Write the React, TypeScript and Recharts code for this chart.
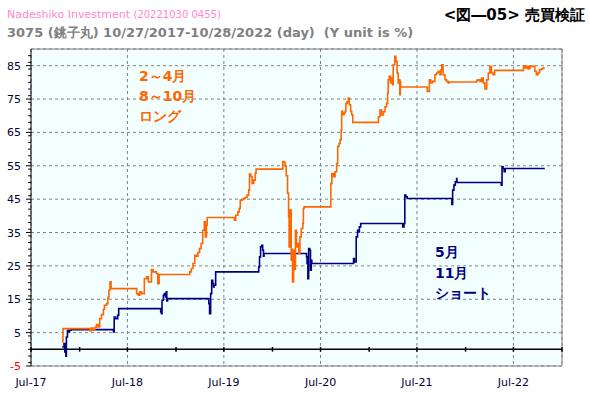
import { LineChart, Line, XAxis, YAxis, CartesianGrid, ReferenceLine } from 'recharts';

// long position: trades Feb-Apr and Aug-Oct
const longDates = [
  '2017-10-27', '2017-10-30', '2018-02-09', '2018-02-14', '2018-02-20', '2018-02-28', '2018-03-06', '2018-03-13',
  '2018-03-18', '2018-03-25', '2018-04-01', '2018-04-05', '2018-04-13', '2018-04-18', '2018-04-22', '2018-04-26',
  '2018-04-30', '2018-08-05', '2018-08-11', '2018-08-17', '2018-08-24', '2018-09-03', '2018-09-12', '2018-09-18',
  '2018-09-30', '2018-10-06', '2018-10-19', '2018-10-24', '2018-10-29', '2019-02-22', '2019-02-28', '2019-03-06',
  '2019-03-13', '2019-03-19', '2019-03-25', '2019-03-31', '2019-04-06', '2019-04-12', '2019-04-18', '2019-04-22',
  '2019-04-26', '2019-04-29', '2019-08-10', '2019-08-15', '2019-08-23', '2019-08-28', '2019-09-01', '2019-09-08',
  '2019-09-14', '2019-09-20', '2019-09-27', '2019-10-03', '2019-10-06', '2019-10-11', '2019-10-16', '2019-10-22',
  '2019-10-28', '2019-10-31', '2020-02-09', '2020-02-14', '2020-02-18', '2020-02-22', '2020-02-27', '2020-03-02',
  '2020-03-04', '2020-03-08', '2020-03-12', '2020-03-15', '2020-03-17', '2020-03-21', '2020-03-24', '2020-03-28',
  '2020-04-01', '2020-04-06', '2020-04-10', '2020-04-14', '2020-04-19', '2020-04-25', '2020-04-27', '2020-04-30',
  '2020-08-09', '2020-08-13', '2020-08-19', '2020-08-25', '2020-08-31', '2020-09-04', '2020-09-09', '2020-09-13',
  '2020-09-17', '2020-09-19', '2020-09-23', '2020-09-28', '2020-10-02', '2020-10-05', '2020-10-10', '2020-10-14',
  '2020-10-18', '2020-10-23', '2020-10-27', '2020-10-31', '2021-02-05', '2021-02-11', '2021-02-17', '2021-02-24',
  '2021-03-02', '2021-03-08', '2021-03-12', '2021-03-14', '2021-03-18', '2021-03-23', '2021-03-27', '2021-03-31',
  '2021-04-02', '2021-04-08', '2021-04-12', '2021-04-17', '2021-04-21', '2021-04-24', '2021-04-27', '2021-04-29',
  '2021-04-30', '2021-08-09', '2021-08-17', '2021-08-22', '2021-08-29', '2021-09-07', '2021-09-13', '2021-09-19',
  '2021-09-26', '2021-09-30', '2021-10-03', '2021-10-08', '2021-10-15', '2021-10-21', '2021-10-27', '2021-10-31',
  '2022-02-12', '2022-02-18', '2022-02-25', '2022-03-03', '2022-03-09', '2022-03-15', '2022-03-22', '2022-03-28',
  '2022-04-03', '2022-04-09', '2022-04-15', '2022-04-21', '2022-08-08', '2022-08-14', '2022-08-20', '2022-08-26',
  '2022-09-01', '2022-09-13', '2022-09-20', '2022-09-26', '2022-10-02', '2022-10-08', '2022-10-14', '2022-10-20',
  '2022-10-28',
];
const longValues = [
  2.2, 6.2, 5.6, 6.4, 5.9, 6.6, 7.4, 6.7,
  9.2, 10.4, 12.0, 13.2, 13.7, 15.5, 17.7, 20.2,
  18.2, 16.7, 16.2, 17.2, 16.7, 21.2, 21.7, 20.2,
  23.9, 23.2, 22.7, 19.7, 22.4, 23.2, 24.2, 25.7,
  28.2, 27.9, 29.0, 30.2, 31.7, 35.7, 38.2, 33.7,
  37.2, 39.5, 38.7, 40.2, 41.2, 42.2, 44.7, 44.9,
  45.2, 45.5, 46.2, 47.7, 52.5, 51.8, 49.7, 50.7,
  52.8, 54.0, 56.3, 56.0, 55.0, 52.0, 46.8, 39.7,
  30.7, 41.7, 26.7, 30.0, 20.2, 29.7, 24.0, 35.7,
  30.7, 31.7, 28.7, 33.7, 36.2, 37.7, 42.2, 42.7,
  49.7, 52.7, 51.7, 53.2, 55.7, 60.8, 61.7, 62.8,
  65.7, 71.3, 70.3, 70.8, 71.3, 73.7, 74.2, 75.3,
  73.3, 71.3, 70.3, 68.0, 69.7, 71.7, 70.2, 71.2,
  72.7, 73.7, 76.8, 80.8, 81.8, 79.8, 81.3, 79.3,
  85.3, 87.8, 86.3, 82.8, 79.8, 80.8, 76.3, 80.3,
  78.6, 77.3, 80.8, 79.8, 80.3, 82.3, 82.8, 83.3,
  82.3, 83.8, 85.3, 82.3, 80.8, 80.3, 79.8, 80.1,
  80.6, 80.8, 80.3, 81.3, 79.8, 78.0, 80.8, 82.8,
  84.8, 82.8, 82.3, 83.6, 85.0, 84.3, 84.8, 84.0,
  84.8, 84.8, 83.3, 82.3, 82.8, 83.8, 84.0, 84.3,
  84.3,
];

// short position: trades May and Nov
const shortDates = [
  '2017-10-27', '2017-11-03', '2017-11-06', '2017-11-10', '2017-11-12', '2017-11-16', '2017-11-21', '2017-11-24',
  '2017-11-30', '2018-05-09', '2018-05-12', '2018-05-17', '2018-05-25', '2018-05-29', '2018-11-04', '2018-11-07',
  '2018-11-09', '2018-11-14', '2018-11-18', '2018-11-22', '2018-11-25', '2018-11-27', '2018-11-30', '2019-05-05',
  '2019-05-08', '2019-05-12', '2019-05-16', '2019-05-20', '2019-05-23', '2019-05-25', '2019-05-31', '2019-11-10',
  '2019-11-13', '2019-11-17', '2019-11-21', '2019-11-25', '2019-11-28', '2019-11-30', '2020-05-09', '2020-05-11',
  '2020-05-14', '2020-05-17', '2020-05-21', '2020-05-24', '2020-05-27', '2020-05-29', '2020-11-03', '2020-11-06',
  '2020-11-13', '2020-11-18', '2020-11-22', '2020-11-25', '2020-11-30', '2021-05-08', '2021-05-13', '2021-05-16',
  '2021-05-20', '2021-05-25', '2021-11-10', '2021-11-13', '2021-11-18', '2021-11-23', '2021-11-28', '2021-11-29',
  '2021-11-30', '2022-05-16', '2022-05-19', '2022-05-23', '2022-05-27', '2022-05-31', '2022-10-28',
];
const shortValues = [
  0.7, 1.7, -0.8, -2.1, 3.7, 5.7, 5.2, 5.7,
  5.9, 5.2, 9.7, 9.2, 10.2, 12.2, 11.2, 10.7,
  14.7, 16.2, 16.7, 15.7, 17.2, 14.5, 15.2, 13.7,
  10.7, 16.7, 20.7, 19.7, 18.7, 19.2, 23.2, 24.7,
  27.7, 30.7, 31.2, 29.7, 27.9, 28.7, 27.7, 25.7,
  21.2, 30.2, 29.7, 23.7, 26.7, 25.7, 27.2, 26.2,
  33.7, 35.7, 35.2, 36.7, 37.7, 36.7, 37.7, 46.2,
  45.7, 45.2, 43.4, 47.7, 49.2, 50.2, 51.2, 50.2,
  50.0, 49.2, 54.7, 54.2, 53.2, 54.2, 54.2,
];

const yTicks = [-5, 5, 15, 25, 35, 45, 55, 65, 75, 85];
const xTickDates = ['2017-07-01', '2018-07-01', '2019-07-01', '2020-07-01', '2021-07-01', '2022-07-01'];
const halfYearDates = [
  '2017-07-01', '2018-01-01', '2018-07-01', '2019-01-01', '2019-07-01', '2020-01-01',
  '2020-07-01', '2021-01-01', '2021-07-01', '2022-01-01', '2022-07-01', '2023-01-01',
];

const DAY = 86400000;
const xStart = Date.parse('2017-07-01');
const xEnd = Date.parse('2023-01-01');
const yMin = -5;
const yMax = 90;

const longData = longDates.map((d, i) => ({ t: Date.parse(d), v: longValues[i] }));
const shortData = shortDates.map((d, i) => ({ t: Date.parse(d), v: shortValues[i] }));
const xTicks = xTickDates.map(d => Date.parse(d));
const halfYears = halfYearDates.map(d => Date.parse(d));
const minorY: number[] = [];
for (let v = -4; v <= 88; v += 2) minorY.push(v);

const FONT = '"DejaVu Sans", Verdana, sans-serif';
const MONTHS = ['Jan', 'Feb', 'Mar', 'Apr', 'May', 'Jun', 'Jul', 'Aug', 'Sep', 'Oct', 'Nov', 'Dec'];

const fmtX = (t: number) => {
  const d = new Date(t);
  return `${MONTHS[d.getUTCMonth()]}-${String(d.getUTCFullYear()).slice(2)}`;
};

const YTick = ({ x, y, payload }: any) => (
  <text x={x} y={y} dy={4} textAnchor="end" fontSize={11} fontFamily={FONT}
    fill={payload.value < 0 ? '#ff0000' : '#000033'}>
    {payload.value}
  </text>
);

export default function App() {
  return (
    <div style={{ position: 'absolute', left: 0, top: 0, width: 590, height: 396, background: '#fff', fontFamily: FONT }}>
      <div style={{ position: 'absolute', left: 7, top: 8, fontSize: 11, color: '#ff88cc', whiteSpace: 'pre' }}>
        Nadeshiko Investment <span style={{ fontSize: 10 }}>(20221030 0455)</span>
      </div>
      <div style={{ position: 'absolute', left: 7, top: 24, fontSize: 13, fontWeight: 'bold', color: '#808080', whiteSpace: 'pre' }}>
        {'3075 (銚子丸) 10/27/2017-10/28/2022 (day)  (Y unit is %)'}
      </div>
      <div style={{ position: 'absolute', right: 5, top: 6, fontSize: 15, fontWeight: 'bold', color: '#000', whiteSpace: 'nowrap' }}>
        &lt;図―05&gt; 売買検証
      </div>

      <LineChart width={590} height={396} data={longData} margin={{ top: 49, right: 28, bottom: 0, left: 0 }}>
        <CartesianGrid stroke="#808080" strokeDasharray="3 3" fill="#f3ffff" />
        <XAxis
          dataKey="t"
          type="number"
          scale="time"
          domain={[xStart, xEnd]}
          ticks={xTicks}
          tickFormatter={fmtX}
          allowDataOverflow
          height={30}
          axisLine={{ stroke: '#808080' }}
          tickLine={false}
          tickMargin={6}
          tick={{ fontSize: 11, fontFamily: FONT, fill: '#000033' }}
        />
        <YAxis
          type="number"
          domain={[yMin, yMax]}
          ticks={yTicks}
          allowDataOverflow
          width={31}
          axisLine={{ stroke: '#000' }}
          tickLine={{ stroke: '#000' }}
          tickSize={5}
          tickMargin={5}
          tick={<YTick />}
        />
        <ReferenceLine y={yMax} stroke="#808080" />
        <ReferenceLine x={xEnd} stroke="#808080" />
        {minorY.map(v => (
          <ReferenceLine key={`my${v}`} ifOverflow="visible" stroke="#000"
            segment={[{ x: xStart - 11 * DAY, y: v }, { x: xStart, y: v }]} />
        ))}
        <ReferenceLine y={0} stroke="#000" strokeWidth={1.5} />
        {halfYears.map(t => (
          <ReferenceLine key={`hx${t}`} ifOverflow="visible" stroke="#000" strokeWidth={1.5}
            segment={[{ x: t, y: -0.7 }, { x: t, y: 0.7 }]} />
        ))}
        <Line data={shortData} dataKey="v" type="stepAfter" stroke="#000080" strokeWidth={1.6}
          dot={false} isAnimationActive={false} />
        <Line data={longData} dataKey="v" type="stepAfter" stroke="#ff6600" strokeWidth={1.6}
          dot={false} isAnimationActive={false} />
      </LineChart>

      <div style={{ position: 'absolute', left: 139, top: 66, fontSize: 14, fontWeight: 'bold', color: '#ff6600', lineHeight: '20px' }}>
        2～4月<br />8～10月<br />ロング
      </div>
      <div style={{ position: 'absolute', left: 435, top: 242, fontSize: 14, fontWeight: 'bold', color: '#000080', lineHeight: '20.5px' }}>
        5月<br />11月<br />ショート
      </div>
    </div>
  );
}
